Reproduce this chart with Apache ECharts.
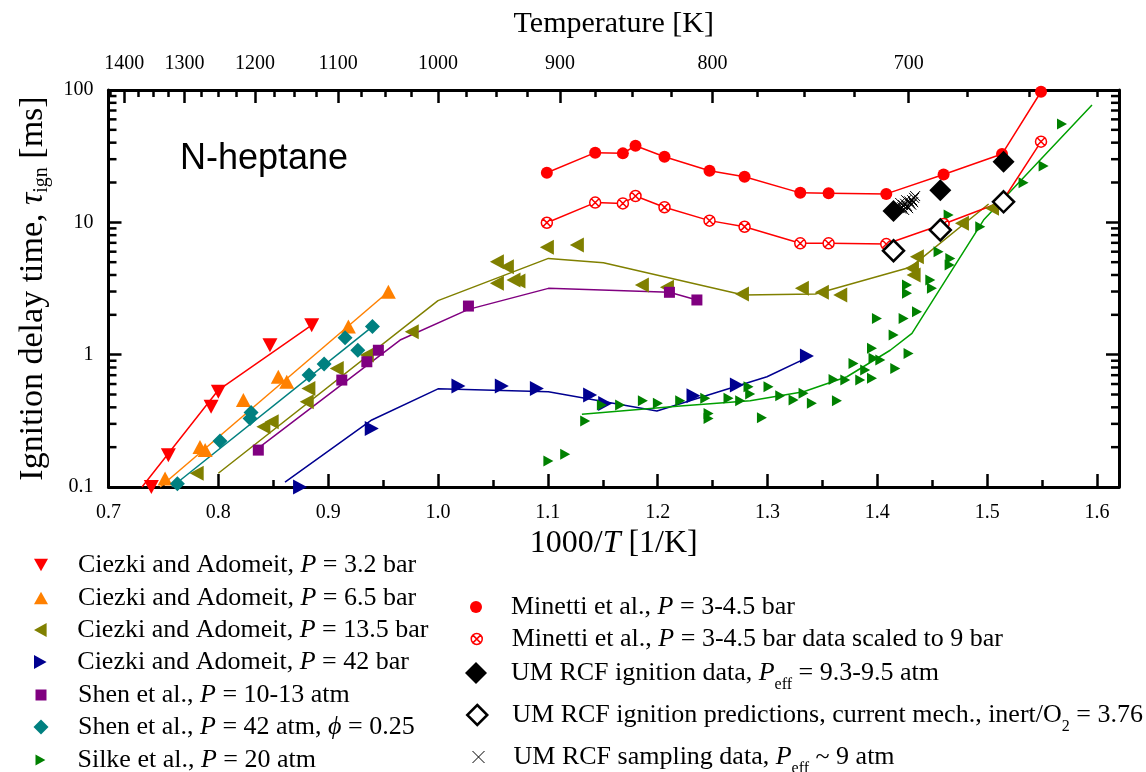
<!DOCTYPE html>
<html>
<head>
<meta charset="utf-8">
<script src="https://cdn.jsdelivr.net/npm/echarts@6/dist/echarts.min.js"></script>
<style>
  html, body { margin: 0; padding: 0; background: #ffffff; }
  #chart { width: 1146px; height: 772px; }
</style>
</head>
<body>
<div id="chart"></div>
<script>
// ---- axis extents and tick positions ----
const X_MIN = 0.7, X_MAX = 1.62, Y_MIN = 0.1, Y_MAX = 100;
const xMajorTicks = [0.7, 0.8, 0.9, 1.0, 1.1, 1.2, 1.3, 1.4, 1.5, 1.6];
const xMinorTicks = [0.75, 0.85, 0.95, 1.05, 1.15, 1.25, 1.35, 1.45, 1.55];
const tempMajor = [1400, 1300, 1200, 1100, 1000, 900, 800, 700];
const tempMinor = [1425, 1375, 1350, 1325, 1275, 1250, 1225, 1175, 1150, 1125, 1075, 1050, 1025,
                   975, 950, 925, 875, 850, 825, 775, 750, 725, 675, 650, 625];
const yMinorTicks = [0.2, 0.3, 0.4, 0.5, 0.6, 0.7, 0.8, 0.9, 2, 3, 4, 5, 6, 7, 8, 9,
                     20, 30, 40, 50, 60, 70, 80, 90];

// ---- measured ignition delays: [1000/T, tau_ign (ms)] ----
const ciezki32 = [[0.739, 0.1], [0.7545, 0.174], [0.7934, 0.404], [0.800, 0.525], [0.847, 1.18], [0.885, 1.67]];
const ciezki65 = [[0.7515, 0.116], [0.7833, 0.201], [0.788, 0.190], [0.8228, 0.454], [0.8546, 0.681],
                  [0.8623, 0.624], [0.9184, 1.63], [0.9548, 2.99]];
const ciezki135 = [[0.7803, 0.127], [0.841, 0.285], [0.8486, 0.311], [0.8805, 0.441], [0.882, 0.556],
                   [0.9078, 0.787], [0.9352, 0.993], [0.9761, 1.49], [1.0536, 5.04], [1.0627, 4.62],
                   [1.0536, 3.46], [1.0687, 3.66], [1.0732, 3.60], [1.0991, 6.47], [1.1264, 6.74],
                   [1.1856, 3.36], [1.2084, 3.23], [1.2767, 2.87], [1.3313, 3.17], [1.3495, 2.96],
                   [1.3662, 2.82], [1.4315, 4.49], [1.433, 4.0], [1.436, 5.50], [1.477, 9.83], [1.5044, 12.76]];
const ciezki42 = [[0.8744, 0.1], [0.9397, 0.277], [1.0186, 0.579], [1.0581, 0.579], [1.09, 0.556],
                  [1.1385, 0.495], [1.1522, 0.428], [1.2326, 0.489], [1.2721, 0.589], [1.3359, 0.976]];
const shen1013 = [[0.8364, 0.190], [0.9124, 0.643], [0.9352, 0.884], [0.9457, 1.08], [1.0277, 2.33],
                  [1.2107, 2.96], [1.2357, 2.59]];
const shen42 = [[0.7627, 0.106], [0.8015, 0.223], [0.8298, 0.366], [0.8289, 0.330], [0.8826, 0.701],
                [0.8963, 0.849], [0.9154, 1.34], [0.927, 1.08], [0.9403, 1.63]];
const silke20 = [[1.1005, 0.157], [1.1158, 0.177], [1.134, 0.315], [1.1492, 0.416], [1.1658, 0.416],
                 [1.1865, 0.449], [1.2002, 0.429], [1.2205, 0.449], [1.2433, 0.468], [1.2463, 0.360],
                 [1.2463, 0.330], [1.2645, 0.468], [1.2751, 0.449], [1.2827, 0.572], [1.2842, 0.504],
                 [1.2949, 0.333], [1.3009, 0.572], [1.3116, 0.489], [1.3237, 0.454], [1.3328, 0.510],
                 [1.3404, 0.429], [1.3632, 0.449], [1.3601, 0.650], [1.3708, 0.643], [1.3783, 0.859],
                 [1.3844, 0.643], [1.3889, 0.765], [1.3951, 1.116], [1.3965, 0.938], [1.3951, 0.662],
                 [1.4027, 0.910], [1.4163, 0.787], [1.4148, 1.41], [1.4284, 1.02], [1.3996, 1.88],
                 [1.4239, 1.88], [1.4361, 2.11], [1.427, 3.36], [1.427, 2.91], [1.4482, 3.66],
                 [1.4497, 3.17], [1.4557, 6.0], [1.4664, 5.34], [1.4658, 4.76], [1.4649, 11.35],
                 [1.4937, 9.26], [1.5331, 19.9], [1.5514, 26.6], [1.5681, 55.3]];
const minetti = [[1.0991, 23.7], [1.1431, 33.6], [1.1683, 33.2], [1.1798, 37.9], [1.2062, 31.3],
                 [1.2472, 24.5], [1.2791, 22.1], [1.3298, 16.7], [1.3556, 16.6], [1.4081, 16.4],
                 [1.4603, 23.0], [1.5135, 32.8], [1.549, 97]];
const minettiScaled = [[1.0991, 9.93], [1.1431, 14.1], [1.1683, 13.9], [1.1798, 15.8], [1.2062, 13.0],
                       [1.2472, 10.3], [1.2791, 9.26], [1.3298, 6.94], [1.3556, 6.94], [1.4081, 6.85],
                       [1.4603, 9.71], [1.5135, 14.3], [1.549, 40.7]];
const umData = [[1.4147, 12.2], [1.4573, 17.5], [1.5149, 28.7]];
const umPred = [[1.4147, 6.10], [1.4573, 8.75], [1.5149, 14.3]];
const umSampling = [[1.4208, 14.0], [1.4235, 13.5], [1.4262, 14.7], [1.428, 12.8], [1.4299, 13.9],
                    [1.4317, 14.7], [1.4335, 15.3], [1.4244, 12.4], [1.4226, 13.0], [1.4253, 13.8],
                    [1.4271, 13.3], [1.4290, 14.4], [1.4308, 13.6], [1.4217, 12.7], [1.4326, 14.2],
                    [1.4344, 15.8], [1.4190, 13.2]];

// ---- model curves ----
const model32 = [[0.7305, 0.1], [0.800, 0.54], [0.885, 1.67]];
const model65 = [[0.747, 0.1], [0.9548, 2.99]];
const model135 = [[0.800, 0.127], [1.0, 2.56], [1.1005, 5.34], [1.1506, 4.95], [1.2781, 2.82],
                  [1.3435, 2.87], [1.430, 4.57], [1.5013, 13.75]];
const model42 = [[0.8607, 0.109], [0.9397, 0.321], [1.0, 0.552], [1.1005, 0.525], [1.1993, 0.375],
                 [1.2995, 0.681], [1.339, 0.976]];
const modelShen1013 = [[0.8364, 0.197], [0.9655, 1.29], [1.0277, 2.2], [1.1005, 3.17], [1.2107, 2.96], [1.2357, 2.59]];
const modelShen42 = [[0.7576, 0.1], [0.9403, 1.63]];
const modelSilke = [[1.131, 0.354], [1.2205, 0.409], [1.2842, 0.449], [1.3328, 0.525], [1.3723, 0.681],
                    [1.4117, 1.08], [1.4315, 1.45], [1.4967, 10.4], [1.5954, 77]];

// ---- series names and legend labels ----
const names = [
  'Ciezki and Adomeit, P = 3.2 bar',
  'Ciezki and Adomeit, P = 6.5 bar',
  'Ciezki and Adomeit, P = 13.5 bar',
  'Ciezki and Adomeit, P = 42 bar',
  'Shen et al., P = 10-13 atm',
  'Shen et al., P = 42 atm, \u03d5 = 0.25',
  'Silke et al., P = 20 atm',
  'Minetti et al., P = 3-4.5 bar',
  'Minetti et al., P = 3-4.5 bar data scaled to 9 bar',
  'UM RCF ignition data, Peff = 9.3-9.5 atm',
  'UM RCF ignition predictions, current mech., inert/O2 = 3.76',
  'UM RCF sampling data, Peff ~ 9 atm'
];
const richLabels = [
  '{t|Ciezki and Adomeit, }{i|P}{t| = 3.2 bar}',
  '{t|Ciezki and Adomeit, }{i|P}{t| = 6.5 bar}',
  '{t|Ciezki and Adomeit, }{i|P}{t| = 13.5 bar}',
  '{t|Ciezki and Adomeit, }{i|P}{t| = 42 bar}',
  '{t|Shen et al., }{i|P}{t| = 10-13 atm}',
  '{t|Shen et al., }{i|P}{t| = 42 atm, }{i|\u03d5}{t| = 0.25}',
  '{t|Silke et al., }{i|P}{t| = 20 atm}',
  '{t|Minetti et al., }{i|P}{t| = 3-4.5 bar}',
  '{t|Minetti et al., }{i|P}{t| = 3-4.5 bar data scaled to 9 bar}',
  '{t|UM RCF ignition data, }{i|P}{s|eff}{t| = 9.3-9.5 atm}',
  '{t|UM RCF ignition predictions, current mech., inert/O}{s|2}{t| = 3.76}',
  '{t|UM RCF sampling data, }{i|P}{s|eff}{t| ~ 9 atm}'
];

const SERIF = "'Liberation Serif', 'Times New Roman', serif";
const SANS = "'Liberation Sans', Arial, sans-serif";

const SYM_DOWN = 'path://M0,0L20,0L10,18Z';
const SYM_UP = 'path://M10,0L20,18L0,18Z';
const SYM_LEFT = 'path://M0,10L18,0L18,20Z';
const SYM_RIGHT = 'path://M0,0L18,10L0,20Z';
const SYM_OTIMES = 'path://M10,0A10,10,0,1,1,10,20A10,10,0,1,1,10,0ZM3,3L17,17M17,3L3,17';
const SYM_CROSS = 'path://M0,0L20,20M20,0L0,20';

const RICH_LEGEND = {
  t: { fontFamily: SERIF, fontSize: 26, color: '#000', lineHeight: 28 },
  i: { fontFamily: SERIF, fontSize: 26, fontStyle: 'italic', color: '#000', lineHeight: 28 },
  s: { fontFamily: SERIF, fontSize: 16, color: '#000', lineHeight: 10, verticalAlign: 'bottom', padding: [0, 0, -6, 0] }
};

function scatter(name, data, symbol, size, color, extra) {
  return Object.assign({
    name: name, type: 'scatter', data: data, symbol: symbol, symbolSize: size,
    itemStyle: { color: color, opacity: 1 }, z: 10, clip: true
  }, extra || {});
}
function curve(data, color, width) {
  return {
    type: 'line', data: data, showSymbol: false, symbol: 'none', silent: true,
    lineStyle: { color: color, width: width || 1.5 }, z: 4, clip: true
  };
}

// legend rows: [series index, icon centre x, row centre y, icon size, text offset]
const legendRows = [
  [0, 41, 566, 14, 32], [1, 41, 599, 14, 32], [2, 41, 631, 14, 32], [3, 41, 663, 14, 32],
  [4, 41, 696, 11, 32], [5, 41, 728, 15, 32], [6, 41, 761, 11, 32],
  [7, 476, 608, 12, 30], [8, 476, 640, 11, 30], [9, 476, 674, 22, 30], [10, 476, 716, 20, 30], [11, 476, 758, 12, 30]
];
const legends = legendRows.map(function (r) {
  const s = r[3];
  return {
    data: [names[r[0]]], orient: 'vertical', left: r[1] - s / 2, top: r[2] - 14,
    itemWidth: s, itemHeight: s, padding: 0, selectedMode: false,
    textStyle: { fontFamily: SERIF, fontSize: 26, color: '#000', rich: RICH_LEGEND, padding: [0, 0, 0, r[4] - s / 2] },
    formatter: function () { return richLabels[r[0]]; },
    itemStyle: r[0] === 11 ? { borderWidth: 1 } : (r[0] === 10 ? { borderWidth: 2.5 } : (r[0] === 8 ? { borderWidth: 1.5 } : {}))
  };
});

const tickLine = { color: '#000', width: 2.5 };

const option = {
  animation: false,
  backgroundColor: '#ffffff',
  title: {
    text: 'N-heptane', left: 180, top: 141, padding: 0,
    textStyle: { fontFamily: SANS, fontSize: 36, fontWeight: 'normal', color: '#000' }
  },
  legend: legends,
  grid: { left: 108.5, right: 27, top: 90, bottom: 285, containLabel: false },
  xAxis: [
    {
      type: 'value', position: 'bottom', min: X_MIN, max: X_MAX,
      name: '{n|1000/}{i|T}{n| [1/K]}', nameLocation: 'middle', nameGap: 36,
      nameTextStyle: {
        rich: {
          n: { fontFamily: SERIF, fontSize: 32, color: '#000' },
          i: { fontFamily: SERIF, fontSize: 32, fontStyle: 'italic', color: '#000' }
        }
      },
      axisLine: { show: true, onZero: false, lineStyle: { color: '#000', width: 3 } },
      axisTick: { show: true, inside: true, length: 13, lineStyle: tickLine, customValues: xMajorTicks },
      axisLabel: {
        show: true, margin: 16, customValues: xMajorTicks, color: '#000',
        fontFamily: SERIF, fontSize: 20, formatter: function (v) { return v.toFixed(1); }
      },
      splitLine: { show: false }
    },
    {
      type: 'value', position: 'top', min: X_MIN, max: X_MAX,
      name: 'Temperature [K]', nameLocation: 'middle', nameGap: 51,
      nameTextStyle: { fontFamily: SERIF, fontSize: 30, color: '#000' },
      axisLine: { show: true, onZero: false, lineStyle: { color: '#000', width: 3 } },
      axisTick: { show: true, inside: true, length: 13, lineStyle: tickLine, customValues: tempMajor.map(function (t) { return 1000 / t; }) },
      axisLabel: {
        show: true, margin: 16, customValues: tempMajor.map(function (t) { return 1000 / t; }), color: '#000',
        fontFamily: SERIF, fontSize: 20, formatter: function (v) { return String(Math.round(1000 / v)); }
      },
      splitLine: { show: false }
    },
    {
      type: 'value', position: 'top', min: X_MIN, max: X_MAX,
      axisLine: { show: false },
      axisTick: { show: true, inside: true, length: 7, lineStyle: tickLine, customValues: tempMinor.map(function (t) { return 1000 / t; }) },
      axisLabel: { show: false },
      splitLine: { show: false }
    },
    {
      type: 'value', position: 'bottom', min: X_MIN, max: X_MAX,
      axisLine: { show: false },
      axisTick: { show: true, inside: true, length: 7, lineStyle: tickLine, customValues: xMinorTicks },
      axisLabel: { show: false },
      splitLine: { show: false }
    }
  ],
  yAxis: [
    {
      type: 'log', logBase: 10, position: 'left', min: Y_MIN, max: Y_MAX,
      name: '{t|Ignition delay time, }{i|\u03c4}{s|ign}{t| [ms]}', nameLocation: 'middle', nameGap: 57, nameRotate: 90,
      nameTextStyle: {
        rich: {
          t: { fontFamily: SERIF, fontSize: 34, color: '#000', lineHeight: 36 },
          i: { fontFamily: SERIF, fontSize: 34, fontStyle: 'italic', color: '#000', lineHeight: 36 },
          s: { fontFamily: SERIF, fontSize: 20, color: '#000', lineHeight: 14, verticalAlign: 'bottom' }
        }
      },
      axisLine: { show: true, onZero: false, lineStyle: { color: '#000', width: 3 } },
      axisTick: { show: true, inside: true, length: 13, lineStyle: tickLine },
      axisLabel: {
        show: true, margin: 15, color: '#000', fontFamily: SERIF, fontSize: 20,
        formatter: function (v) { return String(v); }
      },
      splitLine: { show: false }
    },
    {
      type: 'log', logBase: 10, position: 'right', min: Y_MIN, max: Y_MAX,
      axisLine: { show: true, onZero: false, lineStyle: { color: '#000', width: 3 } },
      axisTick: { show: true, inside: true, length: 13, lineStyle: tickLine },
      axisLabel: { show: false },
      splitLine: { show: false }
    }
  ],
  series: [
    // minor decade ticks on both vertical frame sides
    {
      type: 'custom', xAxisIndex: 0, yAxisIndex: 0, silent: true, clip: false, z: 20,
      data: yMinorTicks.map(function (v) { return [X_MIN, v]; }),
      renderItem: function (params, api) {
        const yv = api.value(1);
        const a = api.coord([X_MIN, yv]);
        const b = api.coord([X_MAX, yv]);
        return {
          type: 'group', children: [
            { type: 'line', shape: { x1: a[0], y1: a[1], x2: a[0] + 8, y2: a[1] }, style: { stroke: '#000', lineWidth: 2.5 } },
            { type: 'line', shape: { x1: b[0] - 8, y1: b[1], x2: b[0], y2: b[1] }, style: { stroke: '#000', lineWidth: 2.5 } }
          ]
        };
      }
    },
    curve(model32, '#ff0000'),
    curve(model65, '#ff8000'),
    curve(model135, '#808000'),
    curve(model42, '#000090'),
    curve(modelShen1013, '#800080'),
    curve(modelShen42, '#008080'),
    curve(modelSilke, '#00a000'),
    curve(minetti, '#ff0000'),
    curve(minettiScaled, '#ff0000'),

    scatter(names[0], ciezki32, SYM_DOWN, [15, 14], '#ff0000'),
    scatter(names[1], ciezki65, SYM_UP, [15, 14], '#ff8000'),
    scatter(names[2], ciezki135, SYM_LEFT, [14, 15], '#808000'),
    scatter(names[3], ciezki42, SYM_RIGHT, [14, 15], '#000090'),
    scatter(names[4], shen1013, 'rect', 11, '#800080'),
    scatter(names[5], shen42, 'diamond', 15, '#008080'),
    scatter(names[6], silke20, SYM_RIGHT, [10, 11], '#008000'),
    scatter(names[7], minetti, 'circle', 12, '#ff0000'),
    scatter(names[8], minettiScaled, SYM_OTIMES, 11, '#ffffff',
      { itemStyle: { color: '#ffffff', borderColor: '#ff0000', borderWidth: 1.5, opacity: 1 } }),
    scatter(names[9], umData, 'diamond', 22, '#000000'),
    scatter(names[10], umPred, 'diamond', 21, '#ffffff',
      { itemStyle: { color: '#ffffff', borderColor: '#000000', borderWidth: 2.5, opacity: 1 } }),
    scatter(names[11], umSampling, SYM_CROSS, 10, 'none',
      { itemStyle: { color: 'none', borderColor: '#000000', borderWidth: 1, opacity: 1 } })
  ]
};

const chart = echarts.init(document.getElementById('chart'), null, { renderer: 'canvas' });
chart.setOption(option);
</script>
</body>
</html>
